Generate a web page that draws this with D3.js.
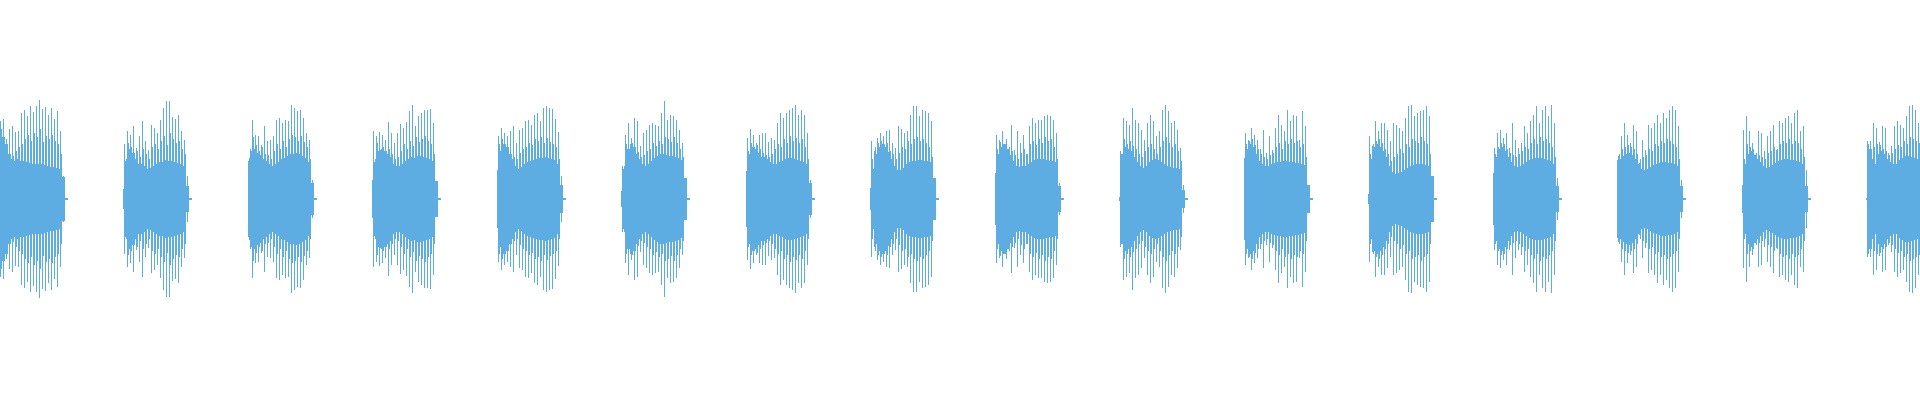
<!DOCTYPE html>
<html>
<head>
<meta charset="utf-8">
<script src="https://cdn.jsdelivr.net/npm/d3@7"></script>
<style>
  html, body { margin: 0; padding: 0; background: #ffffff; }
  svg { display: block; }
</style>
</head>
<body>
<svg id="chart" width="1920" height="400"></svg>
<script>
// Burst onsets (seconds) and frame duration (seconds per peak column)
const onsets = [0, 0.498, 0.996, 1.494, 1.992, 2.49, 2.988, 3.486, 3.984, 4.482, 4.98, 5.478, 5.976, 6.474, 6.972, 7.47];
const frame = 0.004;

// Peak amplitudes (% of full scale) of the tallest strokes, one every 3 frames (frame 3i+1)
const spikesB00 = [78, 80, 60, 70, 73, 67, 68, 86, 89, 83, 93, 87, 93, 99, 90, 92, 84, 91, 80, 88, 68, 23];
const spikesB01 = [55, 68, 64, 73, 51, 63, 78, 58, 49, 74, 71, 66, 79, 91, 98, 98, 82, 80, 84, 68, 59, 23];
const spikesB02 = [41, 79, 64, 63, 54, 73, 58, 59, 63, 79, 81, 76, 79, 78, 94, 91, 88, 89, 81, 66, 59, 19];
const spikesB03 = [68, 63, 67, 64, 59, 77, 66, 56, 66, 75, 71, 77, 88, 94, 73, 83, 86, 89, 89, 90, 76, 18];
const spikesB04 = [63, 71, 66, 63, 68, 73, 56, 69, 71, 78, 79, 74, 84, 86, 78, 91, 93, 91, 90, 80, 67, 23];
const spikesB05 = [33, 64, 76, 61, 81, 78, 53, 66, 69, 74, 76, 74, 73, 86, 98, 79, 84, 83, 79, 69, 56, 21];
const spikesB06 = [61, 70, 64, 56, 64, 66, 66, 57, 61, 59, 76, 86, 81, 86, 89, 91, 94, 84, 89, 84, 66, 19];
const spikesB07 = [58, 48, 61, 66, 63, 68, 69, 56, 51, 73, 70, 66, 68, 84, 93, 93, 83, 89, 88, 86, 78, 21];
const spikesB08 = [64, 59, 68, 46, 45, 74, 49, 68, 56, 64, 45, 73, 81, 76, 79, 79, 83, 84, 83, 79, 66, 16];
const spikesB09 = [48, 81, 78, 74, 91, 79, 76, 69, 59, 76, 84, 78, 63, 68, 89, 94, 88, 76, 78, 69, 51, 14];
const spikesB10 = [66, 59, 71, 64, 59, 50, 69, 46, 63, 49, 71, 84, 74, 68, 89, 78, 84, 83, 59, 88, 73, 14];
const spikesB11 = [63, 53, 78, 68, 76, 76, 69, 58, 76, 74, 71, 68, 81, 93, 94, 83, 86, 88, 89, 93, 83, 23];
const spikesB12 = [51, 66, 69, 61, 66, 51, 76, 59, 51, 56, 73, 66, 78, 84, 93, 76, 89, 93, 83, 94, 76, 21];
const spikesB13 = [43, 63, 76, 64, 56, 74, 68, 36, 59, 49, 74, 71, 76, 84, 76, 86, 81, 89, 93, 89, 73, 19];
const spikesB14 = [69, 83, 68, 56, 43, 68, 66, 48, 63, 68, 74, 49, 78, 76, 81, 83, 76, 86, 89, 68, 73, 29];
const spikesB15 = [58, 58, 76, 71, 57, 73, 71, 46, 53, 73, 78, 74, 71, 83, 93, 94, 89, 76, 84, 81, 80, 20];

// Secondary stroke amplitudes (% of full scale), frame 3i+2
const midsB00 = [70, 62, 50, 45, 43, 48, 52, 55, 60, 64, 58, 66, 62, 70, 57, 63, 60, 64, 58, 55, 45, 10];
const midsB01 = [38, 56, 52, 44, 48, 42, 50, 45, 40, 52, 55, 50, 58, 63, 54, 66, 60, 56, 58, 50, 45, 8];
const midsB02 = [50, 62, 54, 48, 52, 45, 44, 40, 48, 55, 50, 58, 52, 60, 64, 62, 58, 63, 57, 52, 40, 8];
const midsB03 = [37, 56, 49, 52, 46, 50, 45, 40, 42, 48, 55, 50, 58, 53, 62, 57, 60, 63, 58, 55, 45, 8];
const midsB04 = [55, 60, 52, 50, 45, 42, 40, 46, 50, 52, 56, 54, 60, 58, 62, 56, 61, 57, 55, 52, 40, 8];
const midsB05 = [30, 55, 50, 56, 52, 47, 42, 44, 48, 50, 56, 53, 58, 55, 62, 60, 57, 62, 56, 50, 42, 8];
const midsB06 = [48, 56, 52, 54, 50, 46, 44, 42, 45, 50, 55, 52, 60, 56, 63, 58, 61, 56, 60, 52, 40, 8];
const midsB07 = [40, 52, 56, 58, 54, 56, 48, 45, 40, 46, 52, 50, 58, 55, 60, 62, 58, 60, 56, 52, 42, 8];
const midsB08 = [50, 57, 55, 60, 52, 48, 44, 40, 46, 50, 45, 55, 58, 54, 60, 56, 62, 58, 60, 52, 40, 8];
const midsB09 = [45, 60, 55, 58, 53, 50, 45, 42, 48, 52, 55, 50, 45, 52, 58, 62, 56, 52, 55, 48, 38, 6];
const midsB10 = [55, 58, 60, 54, 50, 45, 42, 40, 44, 46, 52, 56, 50, 58, 55, 60, 56, 58, 52, 55, 42, 8];
const midsB11 = [45, 55, 58, 60, 56, 50, 45, 38, 42, 45, 50, 46, 55, 52, 60, 58, 56, 62, 58, 55, 45, 8];
const midsB12 = [45, 52, 56, 55, 50, 46, 44, 42, 45, 48, 52, 50, 56, 60, 55, 62, 58, 60, 56, 52, 42, 8];
const midsB13 = [45, 50, 52, 54, 52, 50, 45, 40, 42, 44, 50, 48, 55, 53, 58, 56, 60, 58, 55, 52, 40, 8];
const midsB14 = [40, 55, 52, 50, 46, 44, 42, 40, 46, 48, 52, 50, 55, 58, 56, 60, 55, 58, 56, 50, 42, 8];
const midsB15 = [55, 50, 52, 55, 54, 50, 48, 44, 46, 50, 54, 52, 58, 55, 62, 60, 58, 56, 60, 54, 45, 8];

// Dense body amplitude (% of full scale), one value per 3-frame block, last block = decay tail
const coreB00 = [60, 62, 55, 45, 40, 38, 40, 38, 38, 37, 36, 35, 35, 35, 35, 34, 33, 32, 32, 31, 30, 22, 1];
const coreB01 = [10, 40, 50, 46, 40, 35, 35, 33, 30, 31, 33, 35, 37, 37, 39, 38, 38, 37, 36, 35, 33, 13, 1];
const coreB02 = [38, 48, 50, 46, 44, 40, 38, 35, 33, 35, 37, 40, 41, 43, 45, 45, 46, 45, 43, 41, 37, 16, 1];
const coreB03 = [19, 40, 48, 50, 48, 45, 42, 35, 33, 33, 35, 38, 40, 42, 41, 43, 43, 42, 41, 40, 38, 18, 1];
const coreB04 = [29, 48, 55, 52, 45, 40, 33, 30, 32, 35, 37, 38, 39, 40, 41, 41, 42, 41, 40, 39, 35, 14, 1];
const coreB05 = [8, 33, 50, 55, 52, 45, 40, 35, 33, 35, 38, 41, 43, 45, 45, 44, 43, 43, 42, 41, 39, 21, 1];
const coreB06 = [28, 45, 52, 50, 46, 42, 42, 40, 37, 35, 35, 37, 38, 40, 41, 41, 40, 39, 38, 37, 35, 16, 1];
const coreB07 = [11, 30, 45, 52, 55, 52, 47, 40, 33, 29, 29, 31, 35, 37, 38, 38, 39, 39, 38, 38, 37, 21, 1];
const coreB08 = [26, 45, 52, 55, 50, 44, 38, 33, 32, 33, 33, 35, 37, 39, 40, 40, 40, 39, 38, 38, 37, 13, 1];
const coreB09 = [2, 45, 52, 50, 48, 42, 37, 33, 31, 33, 37, 39, 40, 39, 37, 35, 33, 32, 31, 31, 30, 9, 1];
const coreB10 = [41, 50, 55, 52, 45, 38, 35, 33, 33, 35, 36, 37, 37, 38, 38, 37, 37, 36, 36, 35, 34, 14, 1];
const coreB11 = [5, 40, 52, 55, 52, 48, 42, 33, 27, 25, 26, 27, 29, 31, 33, 34, 35, 35, 35, 34, 33, 23, 1];
const coreB12 = [26, 42, 50, 52, 48, 42, 37, 33, 32, 33, 35, 37, 39, 40, 41, 41, 41, 40, 39, 38, 35, 13, 1];
const coreB13 = [39, 40, 43, 45, 46, 44, 40, 35, 30, 29, 30, 32, 34, 35, 36, 37, 37, 36, 36, 35, 33, 13, 1];
const coreB14 = [14, 35, 45, 48, 44, 40, 37, 33, 31, 32, 34, 36, 38, 39, 40, 40, 39, 39, 38, 37, 35, 13, 1];
const coreB15 = [1, 50, 40, 35, 45, 48, 45, 40, 37, 35, 35, 39, 41, 43, 43, 42, 41, 40, 39, 38, 35, 14, 1];

const spikeSets = [spikesB00, spikesB01, spikesB02, spikesB03, spikesB04, spikesB05, spikesB06, spikesB07,
                   spikesB08, spikesB09, spikesB10, spikesB11, spikesB12, spikesB13, spikesB14, spikesB15];
const midSets = [midsB00, midsB01, midsB02, midsB03, midsB04, midsB05, midsB06, midsB07,
                 midsB08, midsB09, midsB10, midsB11, midsB12, midsB13, midsB14, midsB15];
const coreSets = [coreB00, coreB01, coreB02, coreB03, coreB04, coreB05, coreB06, coreB07,
                  coreB08, coreB09, coreB10, coreB11, coreB12, coreB13, coreB14, coreB15];

const W = 1920, H = 400;
const color = "#5DADE2";
const x = d3.scaleLinear().domain([0.0048, 7.6848]).range([0, W]);
const y = d3.scaleLinear().domain([-100, 100]).range([299.3, 99.3]);

const svg = d3.select("#chart");
const g = svg.append("g").attr("shape-rendering", "crispEdges");
const colW = x(frame) - x(0);

onsets.forEach((t0, k) => {
  const core = coreSets[k].map((a, i) => ({ t: t0 + 3 * i * frame, a }));
  const strokes = spikeSets[k].map((a, i) => ({ t: t0 + (3 * i + 1) * frame, a }))
    .concat(midSets[k].map((a, i) => ({ t: t0 + (3 * i + 2) * frame, a })));
  const bg = g.append("g");
  bg.selectAll("rect.core").data(core).join("rect")
    .attr("class", "core")
    .attr("x", d => x(d.t))
    .attr("width", colW * 3)
    .attr("y", d => y(d.a))
    .attr("height", d => Math.max(1, y(-d.a) - y(d.a)))
    .attr("fill", color);
  bg.selectAll("rect.stroke").data(strokes).join("rect")
    .attr("class", "stroke")
    .attr("x", d => x(d.t))
    .attr("width", colW)
    .attr("y", d => y(d.a))
    .attr("height", d => y(-d.a) - y(d.a))
    .attr("fill", color);
});
</script>
</body>
</html>
